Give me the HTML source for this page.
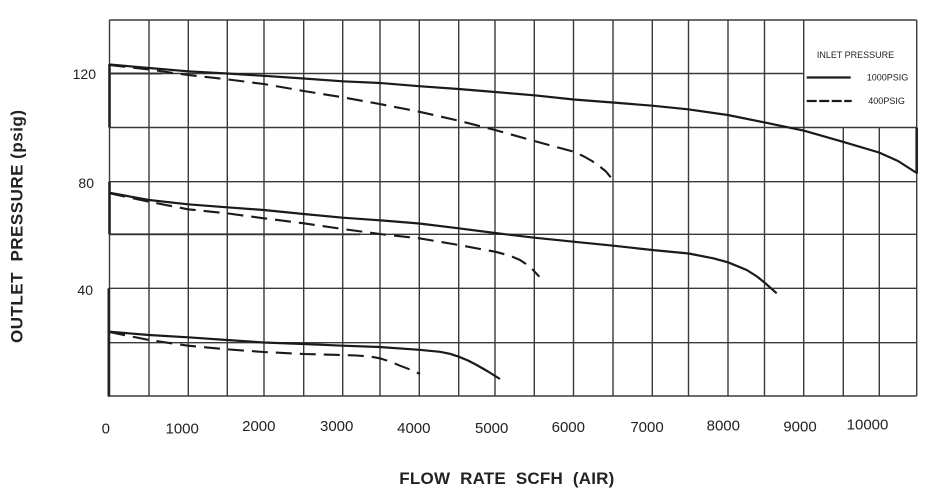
<!DOCTYPE html>
<html>
<head>
<meta charset="utf-8">
<style>
  html,body{margin:0;padding:0;background:#fff;}
  svg{display:block;}
  text{font-family:"Liberation Sans",Arial,sans-serif;fill:#222;}
</style>
</head>
<body>
<svg width="930" height="499" viewBox="0 0 930 499" xmlns="http://www.w3.org/2000/svg">
  <rect width="930" height="499" fill="#fff"/>
  <g stroke="#3a3a3a" stroke-width="1.4" fill="none">
    <!-- verticals full height -->
    <line x1="109.5" y1="20" x2="109.5" y2="396"/>
    <line x1="149" y1="20" x2="149" y2="396"/>
    <line x1="188.3" y1="20" x2="188.3" y2="396"/>
    <line x1="227.3" y1="20" x2="227.3" y2="396"/>
    <line x1="264" y1="20" x2="264" y2="396"/>
    <line x1="303.7" y1="20" x2="303.7" y2="396"/>
    <line x1="342.7" y1="20" x2="342.7" y2="396"/>
    <line x1="380" y1="20" x2="380" y2="396"/>
    <line x1="419.3" y1="20" x2="419.3" y2="396"/>
    <line x1="458.7" y1="20" x2="458.7" y2="396"/>
    <line x1="495" y1="20" x2="495" y2="396"/>
    <line x1="534.3" y1="20" x2="534.3" y2="396"/>
    <line x1="573.5" y1="20" x2="573.5" y2="396"/>
    <line x1="613" y1="20" x2="613" y2="396"/>
    <line x1="652.3" y1="20" x2="652.3" y2="396"/>
    <line x1="688.5" y1="20" x2="688.5" y2="396"/>
    <line x1="728" y1="20" x2="728" y2="396"/>
    <line x1="764.5" y1="20" x2="764.5" y2="396"/>
    <line x1="803.7" y1="20" x2="803.7" y2="396"/>
    <line x1="916.7" y1="20" x2="916.7" y2="396"/>
    <!-- verticals inside legend area start below legend -->
    <line x1="843.3" y1="127.5" x2="843.3" y2="396"/>
    <line x1="879.3" y1="127.5" x2="879.3" y2="396"/>
    <!-- horizontals -->
    <line x1="109.5" y1="20" x2="916.7" y2="20"/>
    <line x1="109.5" y1="73.5" x2="803.7" y2="73.5"/>
    <line x1="109.5" y1="127.5" x2="916.7" y2="127.5"/>
    <line x1="109.5" y1="181.7" x2="916.7" y2="181.7"/>
    <line x1="109.5" y1="234.3" x2="916.7" y2="234.3"/>
    <line x1="108.5" y1="288.3" x2="916.7" y2="288.3"/>
    <line x1="109.5" y1="342.7" x2="916.7" y2="342.7"/>
    <line x1="108" y1="396" x2="916.7" y2="396"/>
  </g>
  <!-- thicker axis segments -->
  <g stroke="#222" stroke-width="2.6" fill="none">
    <line x1="109.5" y1="64" x2="109.5" y2="127.5"/>
    <line x1="109.5" y1="181.7" x2="109.5" y2="234.3"/>
    <line x1="108.8" y1="288.3" x2="108.8" y2="396.5"/>
    <line x1="916.7" y1="127.5" x2="916.7" y2="173.5"/>
  </g>
  <g stroke="#333" stroke-width="1.9" fill="none">
    <line x1="109.5" y1="73.5" x2="162" y2="73.5"/>
    <line x1="109.5" y1="234.3" x2="360" y2="234.3"/>
  </g>

  <!-- curves -->
  <g fill="none" stroke="#1a1a1a" stroke-width="2.2" stroke-linejoin="round" stroke-linecap="butt">
    <!-- top solid 1000 psig -->
    <polyline points="109.3,64.5 149,68 188,71.3 227,73.5 263.7,75.8 303.7,78.5 342.7,81.3 380,83 419,86.2 458.7,89 495,92 534.3,95.3 573.7,99.5 612.7,102.5 652.3,105.7 688,109.3 727.7,115 764,122.3 804,130.7 843,141.8 879,152.5 898,161 916.7,173"/>
    <!-- middle solid -->
    <polyline points="109.3,192.7 149,200 188,204.3 227,207.3 263.7,210 303.7,214 342.7,217.7 379.7,220.3 419.3,223.5 458.7,228.3 495,233 534.3,237.7 573.3,241.7 613.3,245.7 652.3,250 688.7,253.5 713.3,258.3 728,262.3 746.7,270 757,276.5 764.7,282.7 776.7,293.3"/>
    <!-- bottom solid -->
    <polyline points="109.3,331.7 149,335 188,337.3 227,340 263.7,342.5 303.7,344 342.7,345.7 379.7,347 419.3,349.8 440,351.8 450,353.8 458.7,356.7 468,360.5 476.7,365 488,371.5 500,379"/>
  </g>
  <g fill="none" stroke="#1a1a1a" stroke-width="2.1" stroke-dasharray="16 8" stroke-linejoin="round">
    <!-- top dashed 400 psig -->
    <polyline points="109.3,65 149,69.5 188,75 227,79.3 263.7,84 303.7,91 342.7,97.3 379.7,104 419,111.7 458.7,120.7 495,130 534.3,141 573.7,151.7 584,156.5 592,161 600,166.7 606,171.5 610.7,177.3"/>
    <!-- middle dashed -->
    <polyline points="109.3,193.2 149,201.7 188,209.3 227,213.3 263.7,218.3 303.7,223.3 342.7,229 379.7,234 419.3,238.3 458.7,245 495,251.7 510,255.7 520,260 530,266.7 539.3,276.7"/>
    <!-- bottom dashed -->
    <polyline points="109.3,332 149,340 188,345.7 227,349.3 263.7,352 303.7,354 342.7,355 356.7,355.5 370,356.5 379.7,358.3 390,361.5 400,365.7 410,369.5 420,374"/>
  </g>

  <!-- legend -->
  <text x="855.5" y="58" font-size="9" text-anchor="middle">INLET PRESSURE</text>
  <line x1="806.7" y1="77.5" x2="850.7" y2="77.5" stroke="#1a1a1a" stroke-width="2.2"/>
  <text x="866.7" y="80.5" font-size="9">1000PSIG</text>
  <line x1="806.7" y1="101" x2="851.7" y2="101" stroke="#1a1a1a" stroke-width="2.2" stroke-dasharray="10 2.5"/>
  <text x="868.3" y="104" font-size="9">400PSIG</text>

  <!-- y tick labels -->
  <text x="96" y="79" font-size="14" text-anchor="end">120</text>
  <text x="94" y="188" font-size="14" text-anchor="end">80</text>
  <text x="93" y="295" font-size="14" text-anchor="end">40</text>

  <!-- x tick labels -->
  <g font-size="15" text-anchor="middle">
    <text x="105.8" y="433.7">0</text>
    <text x="182.2" y="433.7">1000</text>
    <text x="258.8" y="431">2000</text>
    <text x="336.7" y="431">3000</text>
    <text x="413.8" y="432.8">4000</text>
    <text x="491.7" y="432.8">5000</text>
    <text x="568.3" y="432">6000</text>
    <text x="647" y="432">7000</text>
    <text x="723.3" y="430.7">8000</text>
    <text x="800" y="431.4">9000</text>
    <text x="867.5" y="429.4">10000</text>
  </g>

  <!-- axis titles -->
  <text x="399.3" y="484" font-size="17" font-weight="bold" textLength="215" lengthAdjust="spacing" style="white-space:pre">FLOW  RATE  SCFH  (AIR)</text>
  <text transform="translate(22.5,343) rotate(-90)" x="0" y="0" font-size="17" font-weight="bold" textLength="233" lengthAdjust="spacing" style="white-space:pre">OUTLET  PRESSURE (psig)</text>
</svg>
</body>
</html>
